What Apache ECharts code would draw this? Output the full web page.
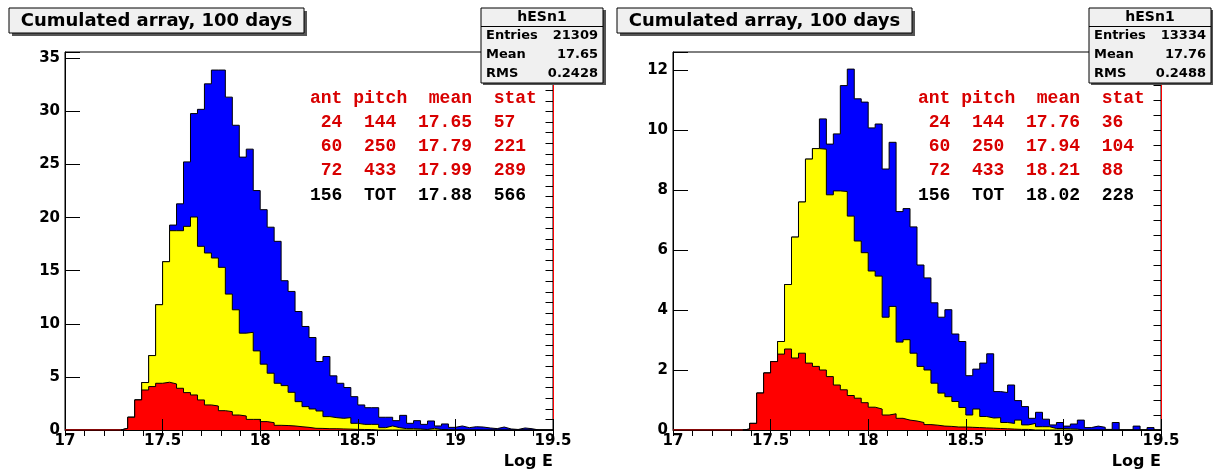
<!DOCTYPE html>
<html><head><meta charset="utf-8">
<script src="https://cdn.jsdelivr.net/npm/echarts@6/dist/echarts.min.js"></script>
<style>html,body{margin:0;padding:0;background:#fff}#c{width:1213px;height:475px}</style>
</head><body><div id="c"></div>
<script>
// ---------- data ----------
const titleText = 'Cumulated array, 100 days';
const histName = 'hESn1';
const xAxisTitle = 'Log E';
const binLow = 17, binHigh = 19.5, binCount = 70;
const xTickLabels = ['17', '17.5', '18', '18.5', '19', '19.5'];
const yTickLabelsLeft = ['0', '5', '10', '15', '20', '25', '30', '35'];
const yTickLabelsRight = ['0', '2', '4', '6', '8', '10', '12'];

const statLabels = ['Entries', 'Mean', 'RMS'];
const statValuesLeft = ['21309', '17.65', '0.2428'];
const statValuesRight = ['13334', '17.76', '0.2488'];

const tableHeader = 'ant pitch  mean  stat';
const tableLeft = [' 24  144  17.65  57', ' 60  250  17.79  221', ' 72  433  17.99  289', '156  TOT  17.88  566'];
const tableRight = [' 24  144  17.76  36', ' 60  250  17.94  104', ' 72  433  18.21  88', '156  TOT  18.02  228'];

const leftBlue = [0,0,0,0,0,0,0,0,
  0.15,1.2,2.83,4.47,7.01,11.8,15.85,19.3,21.3,25.25,
  29.8,30.2,32.6,33.9,33.9,31.35,28.7,25.7,26.45,22.55,
  20.75,19.1,17.77,14.06,13.05,11.16,9.75,8.71,6.45,6.92,
  5.1,4.4,4.0,3.14,2.36,2.1,2.1,1.2,1.2,0.88,
  1.38,0.63,0.88,0.53,0.85,0.38,0.57,0.25,0.38,0.22,
  0.31,0.28,0.19,0.13,0.28,0.1,0.05,0.19,0.12,0,
  0,0];
const leftYellow = [0,0,0,0,0,0,0,0,
  0.15,1.2,2.83,4.47,7.01,11.8,15.85,18.77,18.77,19.18,
  20.06,17.3,16.67,16.2,15.32,12.8,11.32,9.12,9.2,7.45,
  6.2,5.35,4.4,4.18,3.55,2.67,2.2,1.98,1.79,1.26,
  1.16,1.1,1.16,0.63,0.53,0.53,0.53,0.22,0.38,0.22,
  0.13,0.13,0.1,0.05,0.16,0.05,0.03,0,0,0,
  0,0,0,0,0,0,0,0,0,0,
  0,0];
const leftRed = [0,0,0,0,0,0,0,0,
  0.15,1.2,2.83,3.77,4.09,4.4,4.5,4.34,3.93,3.52,
  3.3,2.83,2.36,2.26,1.82,1.73,1.41,1.32,1.0,1.0,
  0.79,0.69,0.44,0.42,0.38,0.31,0.25,0.16,0.15,0.12,
  0.12,0.1,0.08,0.06,0.05,0.04,0,0,0,0,
  0,0,0,0,0,0,0,0,0,0,
  0,0,0,0,0,0,0,0,0,0,
  0,0];

const rightBlue = [0,0,0,0,0,0,0,0,0,0,
  0.03,0.22,1.23,1.9,2.28,2.95,4.85,6.43,7.6,9.03,
  9.38,10.37,9.53,9.87,11.48,12.03,11.04,10.93,10.07,10.2,
  8.7,9.59,7.28,7.38,6.77,5.5,5.07,4.24,3.76,4.01,
  3.2,2.95,1.81,2.03,2.23,2.54,1.28,1.25,1.5,0.98,
  0.78,0.39,0.59,0.36,0.17,0.25,0.13,0.2,0.33,0.08,
  0.13,0.09,0.02,0.25,0,0,0.13,0,0.08,0];
const rightYellow = [0,0,0,0,0,0,0,0,0,0,
  0.03,0.22,1.23,1.9,2.28,2.95,4.85,6.43,7.6,9.03,
  9.38,9.36,7.84,7.97,7.95,7.13,6.3,5.91,5.3,5.13,
  3.76,4.12,2.93,3.01,2.56,2.12,2.0,1.56,1.23,1.11,
  0.95,0.75,0.5,0.7,0.45,0.4,0.41,0.25,0.22,0.33,
  0.17,0.22,0.11,0.11,0.05,0.05,0.04,0.03,0,0,
  0,0,0,0,0,0,0,0,0,0];
const rightRed = [0,0,0,0,0,0,0,0,0,0,
  0.03,0.22,1.23,1.9,2.28,2.53,2.7,2.4,2.56,2.23,
  2.12,2.0,1.78,1.5,1.34,1.15,1.06,0.91,0.76,0.7,
  0.5,0.54,0.39,0.33,0.3,0.25,0.18,0.16,0.13,0.12,
  0.1,0.1,0.09,0.08,0.07,0.06,0.05,0.04,0.03,0.02,
  0.02,0,0,0,0,0,0,0,0,0,
  0,0,0,0,0,0,0,0,0,0];

// ---------- helpers ----------
const binWidth = (binHigh - binLow) / binCount;
function edge(k) { return binLow + k * binWidth; }
function stepData(vals) {
  const d = vals.map((v, k) => [edge(k), v]);
  d.push([binHigh, vals[vals.length - 1]]);
  return d;
}
function leadingZero(vals) {
  const first = vals.findIndex(v => v > 0);
  return [[binLow, 0], [edge(first), 0]];
}

const SANS = '"DejaVu Sans"';
const MONO = '"Liberation Mono"';
const gridTop = 52, gridH = 378, gridW = 488;
const panels = [
  { left: 65, dx: 0, blue: leftBlue, yellow: leftYellow, red: leftRed, ymax: 35.6, major: 5, minor: 1,
    yLabels: yTickLabelsLeft, stats: statValuesLeft, table: tableLeft },
  { left: 673, dx: 608, blue: rightBlue, yellow: rightYellow, red: rightRed, ymax: 12.6, major: 2, minor: 0.5,
    yLabels: yTickLabelsRight, stats: statValuesRight, table: tableRight }
];

const grid = [], xAxis = [], yAxis = [], series = [], elements = [];
panels.forEach((p, i) => {
  grid.push({ left: p.left, top: gridTop, width: gridW, height: gridH, show: true,
    borderColor: '#000', borderWidth: 1, backgroundColor: '#fff' });
  const labelStyle = { fontFamily: SANS, fontWeight: 'bold', color: '#000' };
  xAxis.push({ type: 'value', gridIndex: i, min: binLow, max: binHigh, interval: 0.5, z: 10,
    axisLine: { show: true, onZero: false, lineStyle: { color: '#000', width: 1 } },
    axisTick: { show: true, inside: true, length: 11, lineStyle: { color: '#000', width: 1 } },
    axisLabel: Object.assign({ show: true, margin: 4, fontSize: 15,
      formatter: v => (xTickLabels.includes(String(v)) ? String(v) : '') }, labelStyle),
    splitLine: { show: false } });
  xAxis.push({ type: 'value', gridIndex: i, min: binLow, max: binHigh, interval: 0.1, z: 10,
    axisLine: { show: false },
    axisTick: { show: true, inside: true, length: 6, lineStyle: { color: '#000', width: 1 } },
    axisLabel: { show: false }, splitLine: { show: false } });
  yAxis.push({ type: 'value', gridIndex: i, min: 0, max: p.ymax, interval: p.major, z: 10,
    axisLine: { show: true, onZero: false, lineStyle: { color: '#000', width: 1 } },
    axisTick: { show: true, inside: true, length: 15, lineStyle: { color: '#000', width: 1 } },
    axisLabel: Object.assign({ show: true, margin: 5, fontSize: 15,
      formatter: v => (p.yLabels.includes(String(v)) ? String(v) : '') }, labelStyle),
    splitLine: { show: false } });
  yAxis.push({ type: 'value', gridIndex: i, min: 0, max: p.ymax, interval: p.minor, z: 10,
    axisLine: { show: false },
    axisTick: { show: true, inside: true, length: 7.5, lineStyle: { color: '#000', width: 1 } },
    axisLabel: { show: false }, splitLine: { show: false } });

  const ax = 2 * i;
  const hist = (vals, color, z) => ({
    type: 'line', xAxisIndex: ax, yAxisIndex: ax, step: 'end', data: stepData(vals),
    symbol: 'none', showSymbol: false, silent: true, animation: false, z: z,
    lineStyle: { color: '#000', width: 1 }, areaStyle: { color: color, opacity: 1 }
  });
  series.push(hist(p.blue, '#0000ff', 2));
  series.push(hist(p.yellow, '#ffff00', 3));
  const red = hist(p.red, '#ff0000', 4);
  red.markLine = { silent: true, symbol: ['none', 'none'], animation: false, label: { show: false },
    lineStyle: { color: '#ff0000', type: 'solid', width: 1 }, data: [{ xAxis: binHigh }] };
  series.push(red);
  series.push({ type: 'line', xAxisIndex: ax, yAxisIndex: ax, data: leadingZero(p.red), symbol: 'none',
    silent: true, animation: false, z: 11, lineStyle: { color: '#ff0000', width: 1 } });

  const dx = p.dx;
  // title box
  elements.push({ type: 'rect', z: 100, shape: { x: 12 + dx, y: 11, width: 295, height: 25 }, style: { fill: '#555' } });
  elements.push({ type: 'rect', z: 101, shape: { x: 9 + dx, y: 8, width: 295, height: 25 },
    style: { fill: '#f0f0f0', stroke: '#000', lineWidth: 1 } });
  elements.push({ type: 'text', z: 102, x: 156.5 + dx, y: 21,
    style: { text: titleText, font: 'bold 18px ' + SANS, fill: '#000', align: 'center', verticalAlign: 'middle',
      textAlign: 'center', textVerticalAlign: 'middle' } });
  // stat box
  elements.push({ type: 'rect', z: 100, shape: { x: 483 + dx, y: 10, width: 123, height: 75 }, style: { fill: '#555' } });
  elements.push({ type: 'rect', z: 101, shape: { x: 481 + dx, y: 8, width: 122, height: 75 },
    style: { fill: '#f0f0f0', stroke: '#000', lineWidth: 1 } });
  elements.push({ type: 'line', z: 102, shape: { x1: 481 + dx, y1: 26.5, x2: 603 + dx, y2: 26.5 },
    style: { stroke: '#000', lineWidth: 1 } });
  elements.push({ type: 'text', z: 102, x: 542 + dx, y: 17.5,
    style: { text: histName, font: 'bold 14px ' + SANS, fill: '#000', align: 'center', verticalAlign: 'middle',
      textAlign: 'center', textVerticalAlign: 'middle' } });
  statLabels.forEach((lab, r) => {
    const y = 35.5 + r * 19;
    elements.push({ type: 'text', z: 102, x: 486 + dx, y: y,
      style: { text: lab, font: 'bold 13px ' + SANS, fill: '#000', align: 'left', verticalAlign: 'middle',
        textAlign: 'left', textVerticalAlign: 'middle' } });
    elements.push({ type: 'text', z: 102, x: 598 + dx, y: y,
      style: { text: p.stats[r], font: 'bold 13px ' + SANS, fill: '#000', align: 'right', verticalAlign: 'middle',
        textAlign: 'right', textVerticalAlign: 'middle' } });
  });
  // table text
  const rows = [tableHeader].concat(p.table);
  rows.forEach((t, r) => {
    elements.push({ type: 'text', z: 102, x: 310 + dx, y: 98 + r * 24.3,
      style: { text: t, font: 'bold 18px ' + MONO, fill: r === rows.length - 1 ? '#000' : '#d80000',
        align: 'left', verticalAlign: 'middle', textAlign: 'left', textVerticalAlign: 'middle' } });
  });
  // axis title
  elements.push({ type: 'text', z: 102, x: 553 + dx, y: 462,
    style: { text: xAxisTitle, font: 'bold 16px ' + SANS, fill: '#000', align: 'right', verticalAlign: 'middle',
      textAlign: 'right', textVerticalAlign: 'middle' } });
});

const chart = echarts.init(document.getElementById('c'), null, { renderer: 'canvas' });
chart.setOption({ animation: false, backgroundColor: '#fff', grid, xAxis, yAxis, series, graphic: { elements } });
</script></body></html>
